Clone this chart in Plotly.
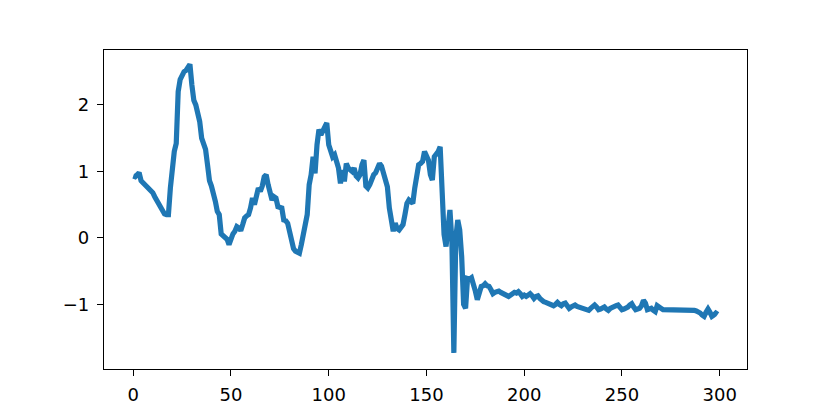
import plotly.graph_objects as go

x_values = list(range(300))

y_values = [
    0.93, 0.92, 0.95, 0.98, 0.86, 0.83, 0.80, 0.78, 0.75, 0.72,
    0.68, 0.62, 0.56, 0.50, 0.44, 0.39, 0.36, 0.35, 0.35, 0.75,
    1.12, 1.30, 1.42, 2.20, 2.38, 2.45, 2.50, 2.52, 2.58, 2.61,
    2.30, 2.07, 2.00, 1.88, 1.75, 1.50, 1.42, 1.33, 1.10, 0.86,
    0.78, 0.68, 0.55, 0.40, 0.35, 0.06, 0.04, 0.02, -0.02, -0.10,
    0.02, 0.06, 0.10, 0.17, 0.15, 0.11, 0.20, 0.30, 0.33, 0.35,
    0.45, 0.60, 0.50, 0.62, 0.75, 0.70, 0.78, 0.92, 0.95, 0.80,
    0.65, 0.57, 0.62, 0.60, 0.47, 0.46, 0.45, 0.27, 0.26, 0.22,
    0.08, 0.00, -0.16, -0.20, -0.22, -0.23, -0.10, 0.05, 0.18, 0.35,
    0.80, 0.95, 1.22, 0.97, 1.40, 1.63, 1.55, 1.60, 1.65, 1.73,
    1.40, 1.28, 1.22, 1.25, 1.15, 1.05, 0.82, 1.02, 0.85, 1.12,
    1.05, 1.02, 1.00, 1.05, 0.93, 0.90, 0.95, 1.10, 1.17, 0.78,
    0.75, 0.80, 0.90, 0.95, 0.98, 1.05, 1.12, 1.08, 0.95, 0.85,
    0.77, 0.45, 0.20, 0.10, 0.22, 0.14, 0.12, 0.15, 0.20, 0.35,
    0.52, 0.57, 0.55, 0.52, 0.75, 1.00, 1.10, 1.12, 1.15, 1.30,
    1.25, 1.17, 0.95, 0.87, 1.22, 1.25, 1.30, 1.37, 0.50, 0.05,
    -0.13, 0.20, 0.42, -0.05, -1.73, 0.00, 0.27, 0.12, -0.28, -1.00,
    -1.06, -0.61, -0.62, -0.60, -0.75, -0.80, -0.93, -0.82, -0.73, -0.72,
    -0.69, -0.72, -0.73, -0.78, -0.84, -0.82, -0.81, -0.80, -0.82, -0.83,
    -0.84, -0.86, -0.88, -0.86, -0.84, -0.82, -0.83, -0.81, -0.84, -0.88,
    -0.86, -0.88, -0.86, -0.84, -0.87, -0.91, -0.88, -0.87, -0.91, -0.95,
    -0.96, -0.97, -0.98, -0.99, -1.00, -1.02, -1.00, -0.97, -1.00, -1.02,
    -0.99, -0.98, -1.02, -1.06, -1.04, -1.02, -1.01, -1.03, -1.04, -1.05,
    -1.06, -1.07, -1.08, -1.09, -1.06, -1.03, -1.01, -1.04, -1.08, -1.07,
    -1.05, -1.04, -1.07, -1.09, -1.06, -1.04, -1.03, -1.02, -1.01, -1.06,
    -1.08, -1.07, -1.06, -1.04, -1.01, -0.99, -1.04, -1.08, -1.07, -1.06,
    -1.02, -0.94, -0.98, -1.08, -1.07, -1.06, -1.09, -1.11, -1.02, -1.03,
    -1.06, -1.08, -1.08, -1.09, -1.08, -1.09, -1.09, -1.08, -1.09, -1.09,
    -1.08, -1.09, -1.09, -1.08, -1.09, -1.08, -1.08, -1.09, -1.10, -1.11,
    -1.13, -1.16, -1.18, -1.12, -1.07, -1.12, -1.18, -1.16, -1.13, -1.15,
]

x_ticks = [0, 50, 100, 150, 200, 250, 300]
y_ticks = [-1, 0, 1, 2]

fig = go.Figure()
fig.add_trace(go.Scatter(
    x=x_values, y=y_values, mode="lines",
    line=dict(color="#1f77b4", width=5.2),
    showlegend=False, hoverinfo="skip",
))

axis_common = dict(
    showgrid=False, zeroline=False,
    showline=True, linecolor="black", linewidth=1.4, mirror=True,
    ticks="outside", ticklen=6, tickwidth=1.4, tickcolor="black",
    tickfont=dict(family="DejaVu Sans", size=18, color="black"),
)

fig.update_layout(
    width=830, height=415,
    margin=dict(l=96, r=91, t=42, b=54),
    paper_bgcolor="white", plot_bgcolor="white",
    xaxis=dict(range=[-14.95, 313.95], tickvals=x_ticks,
               ticktext=[str(v) for v in x_ticks], ticklabelstandoff=3, **axis_common),
    yaxis=dict(range=[-1.972, 2.826], tickvals=y_ticks,
               ticktext=["\u22121", "0", "1", "2"], ticklabelstandoff=4, **axis_common),
)

fig.write_html("out.html")
